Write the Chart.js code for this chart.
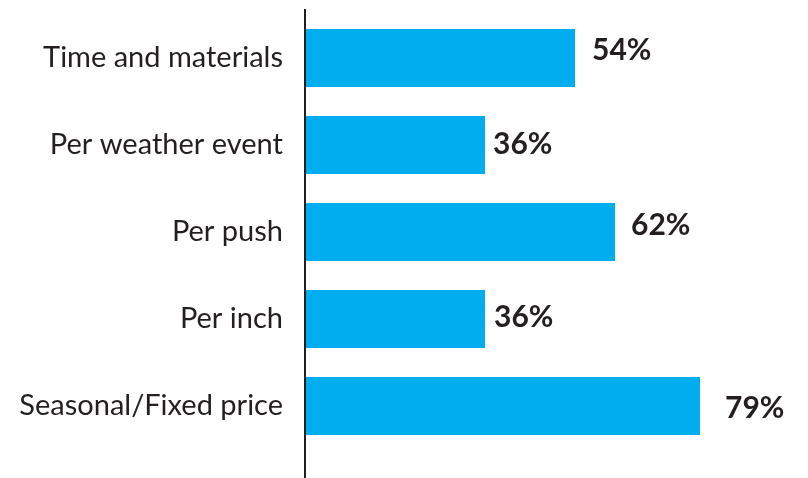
<!DOCTYPE html>
<html>
<head>
<meta charset="utf-8">
<script src="https://cdn.jsdelivr.net/npm/chart.js@4"></script>
<style>
  html, body { margin: 0; padding: 0; background: #ffffff; }
  #wrap { width: 808px; height: 478px; position: relative; }
</style>
</head>
<body>
<div id="wrap"><canvas id="chart"></canvas></div>
<script>
// Pricing methods and share of respondents (%)
const categories = ['Time and materials', 'Per weather event', 'Per push', 'Per inch', 'Seasonal/Fixed price'];
const shares = [54, 36, 62, 36, 79];

// Value-label nudges (px) relative to each bar's end
const labelDx = [17, 8, 16, 9, 25];
const labelDy = [-8, -1, -7, -2, 2];

const TEXT = '#231f20';
const BAR = '#00adef';
const FONT = 'Lato, "Source Sans Pro", "Open Sans", sans-serif';

const valueLabels = {
  id: 'valueLabels',
  afterDatasetsDraw(chart) {
    const ctx = chart.ctx;
    const meta = chart.getDatasetMeta(0);
    ctx.save();
    ctx.fillStyle = TEXT;
    ctx.font = 'bold 30px ' + FONT;
    ctx.textAlign = 'left';
    ctx.textBaseline = 'middle';
    meta.data.forEach((bar, i) => {
      ctx.fillText(shares[i] + '%', bar.x + labelDx[i], bar.y + labelDy[i]);
    });
    ctx.restore();
  }
};

const baseLine = {
  id: 'baseLine',
  afterDraw(chart) {
    const ctx = chart.ctx;
    const x = chart.scales.x.getPixelForValue(0);
    ctx.save();
    ctx.fillStyle = TEXT;
    ctx.fillRect(Math.round(x) - 1, 9, 2, chart.height - 9);
    ctx.restore();
  }
};

new Chart(document.getElementById('chart'), {
  type: 'bar',
  data: {
    labels: categories,
    datasets: [{
      data: shares,
      backgroundColor: BAR,
      borderWidth: 0,
      barPercentage: 0.667,
      categoryPercentage: 1
    }]
  },
  options: {
    indexAxis: 'y',
    responsive: true,
    maintainAspectRatio: false,
    animation: false,
    layout: { padding: { top: 14.5, bottom: 28.5, right: 3, left: 0 } },
    plugins: { legend: { display: false }, tooltip: { enabled: false } },
    scales: {
      x: {
        display: false,
        min: 0,
        max: 100
      },
      y: {
        afterFit(scale) {
          scale.width = 305;
          scale.paddingTop = 0;
          scale.paddingBottom = 0;
        },
        border: { display: false },
        grid: { display: false, drawTicks: false },
        ticks: {
          color: TEXT,
          padding: 22,
          font: { family: FONT, size: 29, weight: 'normal' }
        }
      }
    }
  },
  plugins: [valueLabels, baseLine]
});
</script>
</body>
</html>
